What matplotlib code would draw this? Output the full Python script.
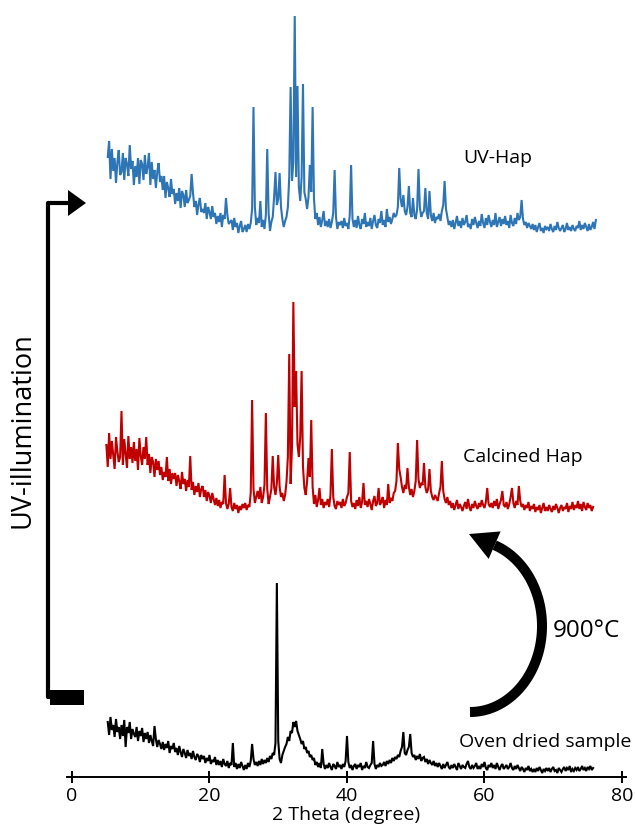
import numpy as np
import matplotlib
matplotlib.use("Agg")
import matplotlib.pyplot as plt
from matplotlib.lines import Line2D
from matplotlib.patches import Polygon
from matplotlib.transforms import Affine2D

plt.rcParams['font.family'] = ['Open Sans', 'DejaVu Sans']

# 2-theta scan ranges (degrees) of the three patterns
uv_hap_range = (5.2, 76.2)
calcined_hap_range = (5.0, 75.8)
oven_dried_range = (5.2, 75.8)

# Intensities (a.u.) on an evenly spaced 2-theta scan, 10 steps per row
uv_hap = [
    80, 96, 58, 88, 66, 79, 54, 75, 87, 62,
    65, 84, 57, 79, 73, 61, 92, 68, 76, 52,
    71, 60, 79, 53, 77, 73, 57, 82, 63, 70,
    84, 52, 75, 58, 67, 49, 65, 74, 55, 61,
    47, 61, 39, 55, 49, 40, 58, 43, 48, 33,
    44, 36, 49, 29, 46, 42, 30, 47, 34, 37,
    41, 63, 44, 30, 36, 22, 33, 39, 25, 28,
    24, 34, 18, 30, 25, 18, 31, 20, 24, 13,
    21, 15, 24, 10, 22, 18, 39, 22, 13, 15,
    17, 7, 19, 10, 14, 4, 11, 16, 5, 8,
    12, 5, 13, 8, 14, 28, 130, 30, 12, 19,
    14, 36, 10, 17, 8, 22, 88, 24, 6, 15,
    20, 40, 65, 32, 38, 64, 30, 18, 10, 16,
    20, 30, 60, 150, 56, 75, 221, 60, 151, 50,
    36, 60, 153, 45, 38, 28, 40, 72, 45, 130,
    38, 18, 24, 12, 20, 10, 17, 26, 11, 16,
    10, 18, 9, 15, 24, 67, 20, 8, 15, 12,
    16, 9, 19, 11, 14, 8, 22, 72, 18, 10,
    17, 9, 21, 12, 8, 18, 13, 24, 10, 15,
    11, 19, 8, 16, 22, 12, 9, 18, 14, 26,
    12, 17, 10, 28, 15, 20, 13, 18, 24, 20,
    22, 30, 69, 38, 30, 42, 26, 22, 30, 51,
    24, 20, 39, 22, 18, 28, 68, 30, 20, 24,
    26, 49, 24, 18, 46, 22, 16, 24, 14, 20,
    18, 23, 16, 26, 32, 56, 28, 20, 12, 16,
    10, 17, 8, 14, 21, 11, 16, 9, 19, 12,
    15, 22, 10, 13, 8, 18, 12, 20, 14, 9,
    16, 11, 23, 14, 9, 19, 12, 22, 15, 10,
    17, 12, 24, 10, 15, 20, 11, 18, 13, 21,
    12, 16, 9, 22, 14, 11, 19, 13, 24, 17,
    20, 37, 18, 12, 15, 9, 14, 11, 8, 13,
    7, 12, 5, 10, 14, 6, 9, 4, 11, 8,
    10, 6, 13, 8, 5, 11, 7, 15, 9, 6,
    9, 12, 5, 8, 14, 7, 10, 6, 12, 8,
    6, 11, 9, 16, 7, 12, 8, 14, 10, 6,
    13, 7, 10, 15, 8, 17,
]

calcined_hap = [
    72, 50, 84, 58, 76, 62, 48, 80, 66, 55,
    60, 106, 52, 78, 63, 49, 81, 58, 70, 54,
    75, 56, 68, 47, 79, 61, 52, 70, 58, 80,
    52, 63, 44, 60, 55, 40, 58, 47, 56, 42,
    50, 37, 45, 40, 60, 36, 48, 33, 44, 38,
    44, 31, 42, 36, 28, 45, 33, 38, 26, 37,
    30, 61, 27, 35, 22, 31, 25, 34, 20, 28,
    31, 20, 27, 16, 25, 21, 14, 24, 18, 12,
    19, 11, 17, 9, 15, 13, 42, 14, 8, 13,
    29, 10, 6, 14, 8, 12, 4, 11, 7, 13,
    9, 14, 7, 12, 10, 24, 117, 28, 14, 20,
    26, 18, 30, 14, 20, 32, 104, 28, 13, 20,
    28, 61, 30, 22, 34, 62, 30, 20, 24, 16,
    22, 35, 60, 163, 33, 70, 215, 110, 146, 73,
    60, 80, 146, 50, 29, 22, 36, 59, 40, 97,
    30, 13, 22, 10, 17, 29, 12, 18, 9, 15,
    12, 18, 10, 22, 68, 20, 11, 8, 16, 12,
    15, 9, 18, 11, 14, 20, 24, 65, 16, 10,
    14, 8, 17, 11, 20, 9, 15, 34, 12, 16,
    10, 18, 13, 7, 16, 21, 11, 14, 29, 12,
    15, 20, 9, 17, 12, 33, 14, 19, 16, 24,
    26, 36, 74, 48, 40, 30, 24, 32, 28, 49,
    30, 22, 28, 20, 26, 36, 77, 38, 29, 34,
    32, 54, 30, 24, 28, 48, 26, 20, 17, 22,
    19, 16, 24, 30, 56, 26, 18, 14, 20, 12,
    16, 9, 14, 7, 12, 17, 8, 13, 10, 6,
    11, 15, 8, 18, 10, 6, 13, 9, 16, 11,
    8, 14, 10, 17, 12, 9, 15, 29, 13, 10,
    14, 9, 16, 11, 18, 8, 13, 17, 26, 12,
    10, 15, 8, 13, 20, 29, 14, 9, 16, 12,
    31, 16, 10, 13, 7, 12, 9, 15, 6, 11,
    8, 13, 5, 10, 7, 12, 4, 9, 14, 6,
    10, 6, 12, 8, 5, 11, 7, 13, 9, 4,
    9, 12, 6, 10, 8, 14, 5, 11, 8, 15,
    7, 12, 9, 16, 8, 13, 6, 15, 10, 7,
    14, 9, 12, 6, 10,
]

oven_dried = [
    55, 42, 60, 47, 52, 40, 58, 45, 50, 38,
    52, 41, 57, 30, 50, 44, 55, 38, 48, 43,
    40, 50, 36, 46, 41, 49, 35, 44, 38, 45,
    34, 42, 36, 31, 51, 38, 30, 37, 33, 28,
    35, 27, 33, 29, 36, 24, 31, 28, 34, 25,
    29, 22, 31, 25, 20, 28, 24, 19, 27, 21,
    24, 18, 26, 20, 17, 23, 21, 15, 22, 18,
    21, 14, 19, 16, 22, 13, 17, 15, 20, 12,
    17, 12, 16, 10, 18, 13, 11, 16, 9, 14,
    12, 34, 10, 14, 8, 13, 9, 15, 11, 7,
    12, 8, 14, 10, 16, 33, 18, 12, 15, 11,
    16, 12, 18, 13, 17, 14, 19, 15, 21, 18,
    24, 22, 34, 194, 36, 18, 14, 22, 26, 30,
    33, 40, 36, 46, 44, 55, 50, 56, 46, 42,
    38, 33, 36, 28, 30, 24, 26, 20, 22, 17,
    19, 12, 15, 10, 14, 9, 28, 13, 8, 12,
    9, 14, 10, 7, 13, 11, 8, 15, 10, 12,
    8, 13, 10, 16, 41, 15, 9, 12, 7, 11,
    13, 8, 12, 10, 14, 7, 11, 9, 15, 10,
    9, 12, 14, 36, 13, 8, 12, 10, 14, 11,
    12, 15, 11, 16, 13, 17, 14, 19, 16, 20,
    18, 22, 20, 26, 30, 45, 24, 22, 27, 30,
    43, 24, 20, 22, 17, 21, 18, 23, 16, 19,
    20, 15, 18, 13, 17, 14, 12, 16, 11, 14,
    10, 14, 11, 8, 13, 9, 12, 15, 10, 8,
    12, 9, 13, 10, 7, 14, 11, 8, 12, 10,
    9, 13, 16, 10, 8, 12, 9, 11, 14, 8,
    11, 8, 13, 10, 15, 9, 7, 12, 10, 14,
    9, 12, 8, 14, 10, 7, 11, 13, 8, 10,
    12, 8, 10, 14, 9, 7, 11, 8, 12, 9,
    6, 10, 8, 5, 9, 7, 11, 6, 8, 5,
    8, 5, 9, 6, 10, 7, 4, 8, 6, 9,
    6, 9, 5, 8, 10, 6, 7, 4, 9, 7,
    5, 8, 10, 6, 9, 7, 11, 5, 8, 6,
    9, 7, 10, 6, 8, 11, 7, 9, 6, 10,
    8, 11, 7, 9,
]

sample_labels = ["UV-Hap", "Calcined Hap", "Oven dried sample"]
stack_offsets = [540, 260, 0]
x_ticks = [0, 20, 40, 60, 80]

# --- figure -----------------------------------------------------------
W, H = 635, 834
fig = plt.figure(figsize=(W / 100, H / 100), dpi=100)
ax_l, ax_r, ax_t, ax_b = 66.84, 626.1, 0.0, 777.0
ax = fig.add_axes([ax_l / W, 1 - ax_b / H, (ax_r - ax_l) / W, (ax_b - ax_t) / H])

# pixel coordinates measured from the top-left corner of the figure
px = Affine2D().scale(1 / W, -1 / H).translate(0, 1) + fig.transFigure

patterns = [
    (uv_hap_range, uv_hap, '#2E75B6'),
    (calcined_hap_range, calcined_hap, '#C00000'),
    (oven_dried_range, oven_dried, '#000000'),
]
for (rng, values, color), offset in zip(patterns, stack_offsets):
    two_theta = np.linspace(rng[0], rng[1], len(values))
    ax.plot(two_theta, np.asarray(values) + offset, color=color, lw=1.5,
            solid_joinstyle='miter')

ax.set_xlim(-0.75, 80.6)
ax.set_ylim(0, 777)
ax.set_xticks(x_ticks)
ax.set_yticks([])
for side in ('top', 'right', 'left'):
    ax.spines[side].set_visible(False)
ax.spines['bottom'].set_linewidth(1.4)
ax.tick_params(axis='x', direction='inout', length=8, width=1.4,
               labelsize=14, pad=3, colors='black')
ax.set_xlabel('2 Theta (degree)', fontsize=14, labelpad=1)

# sample names
text_pos = [(463, 163), (463, 462), (459, 747)]
for label, (x, y) in zip(sample_labels, text_pos):
    fig.text(x, y, label, transform=px, fontsize=14, ha='left', va='baseline')

# UV-illumination bracket arrow
fig.add_artist(Line2D([72, 48, 48, 62], [203, 203, 697, 697], transform=px,
                      color='black', lw=3, solid_joinstyle='round',
                      solid_capstyle='butt'))
fig.add_artist(Polygon([[68, 190], [86, 203], [68, 216]], closed=True,
                       transform=px, color='black', lw=0))
fig.add_artist(Polygon([[50, 690], [84, 690], [84, 705], [50, 705]], closed=True,
                       transform=px, color='black', lw=0))
fig.text(23, 430, 'UV-illumination', transform=px, fontsize=19.5, rotation=90,
         ha='center', va='center')

# calcination arrow
cx, cy, rx, ry = 470, 626, 72, 86
t = np.radians(np.linspace(-90, 70, 120))
arc_x = cx + rx * np.cos(t)
arc_y = cy - ry * np.sin(t)
fig.add_artist(Line2D(arc_x, arc_y, transform=px, color='black', lw=7.2,
                      solid_capstyle='butt'))
te = t[-1]
ex, ey = arc_x[-1], arc_y[-1]
d = np.array([-rx * np.sin(te), -ry * np.cos(te)])
d /= np.hypot(*d)
n = np.array([-d[1], d[0]])
tip = np.array([ex, ey]) + 28 * d
b1 = np.array([ex, ey]) + 15 * n
b2 = np.array([ex, ey]) - 15 * n
fig.add_artist(Polygon([tip, b1, b2], closed=True, transform=px,
                       color='black', lw=0))
fig.text(553, 637, '900°C', transform=px, fontsize=17.5, ha='left',
         va='baseline')

fig.savefig('out.png', dpi=100)
